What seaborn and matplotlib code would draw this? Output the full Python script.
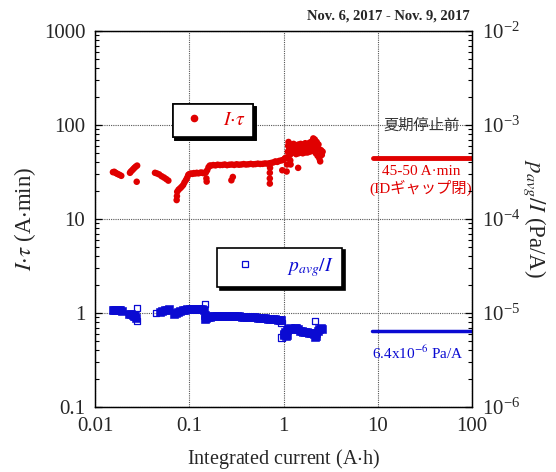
import matplotlib
matplotlib.use('Agg')
import matplotlib.pyplot as plt
from matplotlib.lines import Line2D
from matplotlib.ticker import LogLocator, LogFormatterMathtext, NullFormatter, FixedLocator, FixedFormatter
import seaborn as sns
import pandas as pd

# ----------------- data -----------------
RED = '#e00000'
BLUE = '#0a0ad2'

# I*tau (A.min) vs integrated current (A.h)
red_x = [0.0155, 0.0160, 0.0165, 0.0170, 0.0175, 0.0182, 0.0190,
         0.0235, 0.0240, 0.0248, 0.0255, 0.0262, 0.0270, 0.0280, 0.0277,
         0.0433, 0.0455, 0.0480, 0.0510, 0.0540, 0.0570, 0.0600,
         0.0735, 0.0740, 0.0745, 0.0770, 0.0800, 0.0830, 0.0862, 0.0890, 0.0923, 0.0950, 0.0976,
         0.100, 0.104, 0.108, 0.112, 0.116, 0.120, 0.125, 0.130, 0.135, 0.140, 0.145, 0.150,
         0.153, 0.152, 0.155, 0.160, 0.165,
         0.170, 0.180, 0.190, 0.200, 0.212, 0.225, 0.238, 0.252, 0.267, 0.283, 0.300, 0.318, 0.337,
         0.357, 0.378, 0.400, 0.424, 0.449, 0.476, 0.504, 0.534, 0.566, 0.600, 0.636, 0.674, 0.714,
         0.280, 0.290, 0.716, 0.716, 0.716, 0.720,
         0.74, 0.78, 0.82, 0.86, 0.90, 0.95, 0.99, 1.03, 1.06, 0.97,
         1.08, 1.09, 1.10, 1.11, 1.12, 1.13, 1.15, 1.17, 1.18, 1.19,
         1.20, 1.28, 1.36, 1.44, 1.52, 1.60, 1.70, 1.80, 1.90, 2.00, 2.07, 2.15, 2.25, 2.35,
         1.20, 1.28, 1.36, 1.44, 1.52, 1.60, 1.70, 1.80, 1.90, 2.00, 2.10, 2.20, 2.30, 2.40, 2.50,
         1.20, 1.28, 1.36, 1.44, 1.52, 1.60, 1.70, 1.80, 1.90, 2.00, 2.10, 2.20, 2.30, 2.40, 2.45, 2.55, 2.60,
         1.43]
red_y = [31.5, 31.8, 31.0, 30.5, 30.0, 29.5, 28.8,
         31.0, 32.0, 33.0, 34.0, 35.0, 36.0, 37.0, 24.9,
         31.0, 30.5, 29.8, 28.5, 27.6, 26.6, 25.6,
         15.9, 17.5, 19.5, 20.5, 21.2, 22.0, 23.0, 24.5, 26.0, 27.5, 29.4,
         30.0, 30.5, 30.2, 30.8, 30.5, 31.0, 30.6, 31.0, 31.2, 30.8, 31.0, 31.2,
         25.0, 27.0, 33.0, 35.5, 37.0,
         37.0, 37.5, 37.2, 37.8, 37.5, 37.6, 38.0, 37.4, 37.8, 38.0, 37.6, 38.2, 37.8,
         38.0, 38.4, 38.0, 38.2, 38.6, 38.2, 38.4, 38.8, 38.5, 38.6, 39.0, 38.8, 39.2,
         25.8, 28.0, 23.8, 27.0, 31.0, 35.0,
         39.5, 40.0, 41.0, 40.5, 41.5, 42.0, 42.5, 44.0, 45.0, 33.0,
         32.0, 38.0, 45.0, 52.0, 60.0, 66.0, 55.0, 48.0, 42.0, 38.0,
         62, 63, 61, 62, 63, 62, 64, 63, 65, 67, 72, 70, 66, 62,
         55, 56, 55, 56, 57, 56, 57, 56, 58, 60, 62, 60, 57, 55, 54,
         50, 51, 49, 50, 51, 50, 51, 51, 52, 53, 54, 50, 47, 44, 41, 48, 52,
         35.0]

# p_avg/I (Pa/A), values on the right axis
blue_x = [0.0154, 0.0160, 0.0166, 0.0172, 0.0178, 0.0185, 0.0192,
          0.0231, 0.0240, 0.0250, 0.0258, 0.0266, 0.0270,
          0.049, 0.052, 0.055, 0.058, 0.061,
          0.0688, 0.072, 0.076, 0.080, 0.085, 0.090, 0.095, 0.1016, 0.107, 0.113, 0.119, 0.125,
          0.130, 0.136, 0.142,
          0.146, 0.148, 0.152,
          0.158, 0.166, 0.175, 0.185, 0.196, 0.208, 0.220, 0.233, 0.249, 0.265, 0.282, 0.300,
          0.320, 0.340, 0.362, 0.385, 0.410, 0.440, 0.470, 0.500, 0.530, 0.565, 0.600, 0.640,
          0.680, 0.720, 0.770, 0.820, 0.870, 0.920, 0.950,
          1.00, 1.02, 1.04, 1.08, 1.12, 1.17, 1.22, 1.27, 1.32, 1.37, 1.43, 1.50, 1.57, 1.62,
          1.70, 1.78, 1.86, 1.95, 2.04, 2.12, 2.20, 2.20, 2.30, 2.40, 2.50, 2.55,
          1.06, 1.10, 2.15]
blue_y = [1.08, 1.08, 1.07, 1.08, 1.07, 1.07, 1.06,
          0.98, 0.97, 0.96, 0.94, 0.92, 0.89,
          1.03, 1.05, 1.07, 1.08, 1.09,
          0.97, 1.00, 1.03, 1.05, 1.07, 1.08, 1.09, 1.10, 1.10, 1.11, 1.10, 1.10,
          1.10, 1.09, 1.08,
          0.95, 0.86, 0.88,
          0.90, 0.91, 0.92, 0.92, 0.93, 0.93, 0.93, 0.93, 0.93, 0.93, 0.92, 0.92,
          0.92, 0.92, 0.91, 0.91, 0.91, 0.91, 0.90, 0.90, 0.89, 0.89, 0.88, 0.88,
          0.87, 0.87, 0.86, 0.86, 0.85, 0.85, 0.84,
          0.60, 0.58, 0.63, 0.66, 0.68, 0.69, 0.67, 0.68, 0.69, 0.69, 0.67, 0.65, 0.64, 0.63,
          0.63, 0.63, 0.62, 0.62, 0.61, 0.60, 0.57, 0.62, 0.64, 0.67, 0.69, 0.68,
          0.57, 0.59, 0.55]
blue_y = [v * 1e-5 for v in blue_y]

# isolated open squares
blue_open_x = [0.0277, 0.0277, 0.0443, 0.146, 0.146, 0.95, 0.95, 2.15]
blue_open_y = [1.14e-5, 0.83e-5, 1.0e-5, 1.24e-5, 0.87e-5, 0.79e-5, 0.55e-5, 0.83e-5]

# reference levels (right-hand side of chart)
ref_x = [9.0, 100.0]
red_ref_y = [45.0, 45.0]
blue_ref_x = [8.6, 100.0]
blue_ref_y = [6.4e-6, 6.4e-6]

x_ticks = [0.01, 0.1, 1, 10, 100]
x_ticklabels = ['0.01', '0.1', '1', '10', '100']
y_ticks = [0.1, 1, 10, 100, 1000]
y_ticklabels = ['0.1', '1', '10', '100', '1000']
# ------------------------------------------------------------

sns.set_theme(style='white')
plt.rcParams.update({
    'font.family': ['Liberation Serif', 'Noto Sans CJK JP'],
    'mathtext.fontset': 'stix',
    'axes.edgecolor': 'black',
    'axes.linewidth': 0.9,
    'xtick.direction': 'in',
    'ytick.direction': 'in',
})

fig = plt.figure(figsize=(5.56, 4.72), dpi=100)
ax = fig.add_axes([95 / 556, 1 - 407 / 472, 377 / 556, 376 / 472])
ax2 = ax.twinx()

df_red = pd.DataFrame({'x': red_x, 'y': red_y})
df_blue = pd.DataFrame({'x': blue_x, 'y': blue_y})
df_open = pd.DataFrame({'x': blue_open_x, 'y': blue_open_y})

sns.scatterplot(data=df_red, x='x', y='y', ax=ax, color=RED, s=22, edgecolor='none',
                marker='o', legend=False, zorder=3)
sns.scatterplot(data=df_blue, x='x', y='y', ax=ax2, color=BLUE, s=28, edgecolor=BLUE,
                marker='s', legend=False, zorder=3)
sns.scatterplot(data=df_open, x='x', y='y', ax=ax2, facecolor='none', s=20, edgecolor=BLUE,
                linewidth=0.9, marker='s', legend=False, zorder=3)
sns.lineplot(x=ref_x, y=red_ref_y, ax=ax, color=RED, linewidth=3.5)
sns.lineplot(x=blue_ref_x, y=blue_ref_y, ax=ax2, color=BLUE, linewidth=2.5)

for a in (ax, ax2):
    a.set_xscale('log')
    a.set_yscale('log')
    a.set_xlim(0.01, 100)
ax.set_ylim(0.1, 1000)
ax2.set_ylim(1e-6, 1e-2)

ax.xaxis.set_major_locator(FixedLocator(x_ticks))
ax.xaxis.set_major_formatter(FixedFormatter(x_ticklabels))
ax.xaxis.set_minor_locator(LogLocator(base=10, subs=range(2, 10)))
ax.xaxis.set_minor_formatter(NullFormatter())
ax.yaxis.set_major_locator(FixedLocator(y_ticks))
ax.yaxis.set_major_formatter(FixedFormatter(y_ticklabels))
ax.yaxis.set_minor_locator(LogLocator(base=10, subs=range(2, 10)))
ax.yaxis.set_minor_formatter(NullFormatter())
ax2.yaxis.set_major_locator(LogLocator(base=10))
ax2.yaxis.set_major_formatter(LogFormatterMathtext())
ax2.yaxis.set_minor_locator(LogLocator(base=10, subs=range(2, 10)))
ax2.yaxis.set_minor_formatter(NullFormatter())

ax.tick_params(axis='x', which='major', labelsize=15, length=5, width=0.9, color='black',
               top=False, pad=7)
ax.tick_params(axis='y', which='major', labelsize=15, length=5, width=0.9, color='black',
               right=False, pad=7)
ax.tick_params(axis='both', which='minor', length=3, width=0.8, color='black', top=False, right=False)
ax2.tick_params(axis='y', which='major', labelsize=15, length=5, width=0.9, color='black', pad=7)
ax2.tick_params(axis='y', which='minor', length=3, width=0.8, color='black')

ax.grid(True, which='major', linestyle=(0, (1, 1)), color='#555555', linewidth=0.8)
ax2.grid(False)

ax.set_xlabel('Integrated current (A$\\cdot$h)', fontsize=14.5, labelpad=8)
ax.set_ylabel('$I{\\cdot}\\tau$ (A$\\cdot$min)', fontsize=16.5, labelpad=4)
ax2.set_ylabel('$p_{avg}/I$ (Pa/A)', fontsize=16.5, rotation=270, labelpad=20)

# legends
h_red = Line2D([], [], linestyle='none', marker='o', color=RED, markersize=4.5)
h_blue = Line2D([], [], linestyle='none', marker='s', markerfacecolor='none',
                markeredgecolor=BLUE, markersize=5, markeredgewidth=0.9)
shadow = {'color': 'black', 'alpha': 1.0}
leg1 = ax.legend([h_red], ['$I{\\cdot}\\tau$'], loc='center', bbox_to_anchor=(0.313, 0.762),
                 fancybox=False, shadow=shadow, edgecolor='black', framealpha=1, fontsize=14,
                 handletextpad=0.8, borderpad=0.4, handlelength=1.4, labelcolor=RED)
leg1.get_frame().set_linewidth(1.2)
ax.add_artist(leg1)
leg2 = ax2.legend([h_blue], ['$p_{avg}/I$'], loc='center', bbox_to_anchor=(0.49, 0.372),
                  fancybox=False, shadow=shadow, edgecolor='black', framealpha=1, fontsize=14,
                  handletextpad=1.2, borderpad=0.42, handlelength=2.0, labelcolor=BLUE)
leg2.get_frame().set_linewidth(1.2)

# annotations
ax.text(0.865, 0.749, '夏期停止前', transform=ax.transAxes, ha='center', va='center',
        fontsize=11, color='#333333', family=['Noto Sans CJK JP'])
ax.text(0.865, 0.626, '45-50 A·min', transform=ax.transAxes, ha='center', va='center',
        fontsize=11, color=RED)
ax.text(0.865, 0.582, '(IDギャップ閉)', transform=ax.transAxes, ha='center', va='center',
        fontsize=11, color=RED, family=['Liberation Serif', 'Noto Sans CJK JP'])
ax.text(0.857, 0.144, '6.4x10$^{-6}$ Pa/A', transform=ax.transAxes, ha='center', va='center',
        fontsize=11, color=BLUE)

fig.text(470 / 556, 1 - 16 / 472, 'Nov. 6, 2017 - Nov. 9, 2017', ha='right', va='center',
         fontsize=10.5, fontweight='bold')

fig.savefig('out.png', dpi=100)
